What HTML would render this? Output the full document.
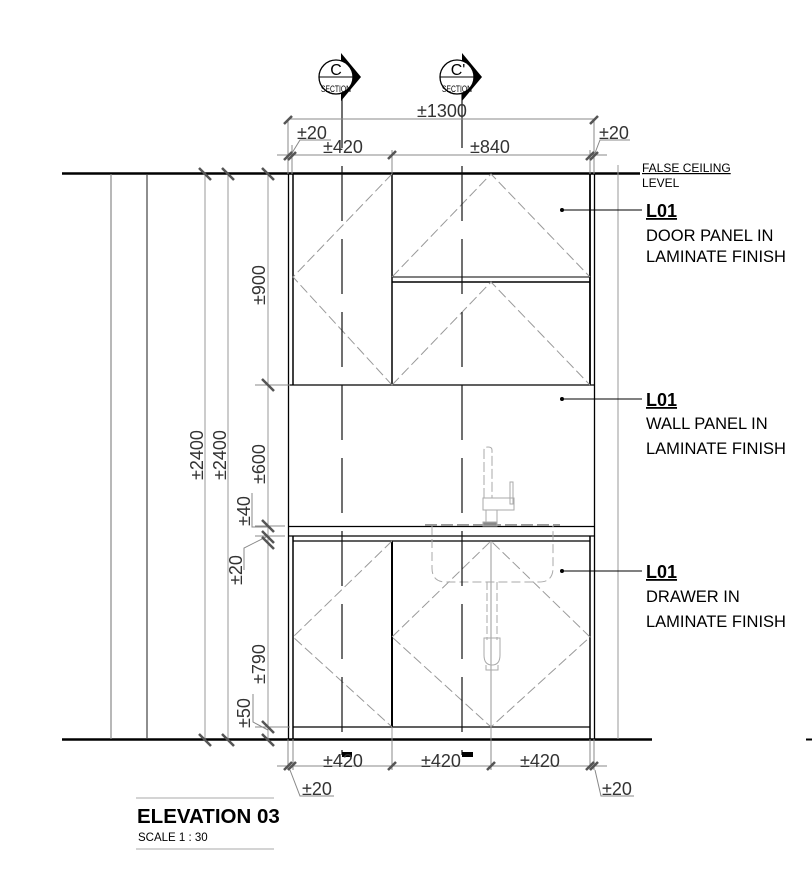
<!DOCTYPE html>
<html><head><meta charset="utf-8"><style>
html,body{margin:0;padding:0;background:#fff;}
svg{display:block;}
text{font-family:"Liberation Sans",Arial,sans-serif;}
</style></head><body>
<svg width="812" height="872" viewBox="0 0 812 872" xmlns="http://www.w3.org/2000/svg">
<g fill="none" stroke-linecap="butt">
<line x1="62" y1="173.5" x2="640" y2="173.5" stroke="#000" stroke-width="2.5"/>
<line x1="62" y1="739.5" x2="652" y2="739.5" stroke="#000" stroke-width="2.5"/>
<line x1="806" y1="739.5" x2="812" y2="739.5" stroke="#000" stroke-width="2"/>
<line x1="111" y1="174" x2="111" y2="739" stroke="#888" stroke-width="1.2"/>
<line x1="147" y1="174" x2="147" y2="739" stroke="#444" stroke-width="1.2"/>
<line x1="205" y1="174" x2="205" y2="739" stroke="#999" stroke-width="1"/>
<line x1="228" y1="174" x2="228" y2="739" stroke="#999" stroke-width="1"/>
<line x1="268" y1="174" x2="268" y2="739" stroke="#999" stroke-width="1"/>
<line x1="618" y1="165" x2="618" y2="739" stroke="#999" stroke-width="1"/>
<line x1="288.5" y1="174" x2="288.5" y2="739" stroke="#000" stroke-width="1.3"/>
<line x1="293" y1="174" x2="293" y2="385" stroke="#000" stroke-width="1.5"/>
<line x1="594.5" y1="174" x2="594.5" y2="739" stroke="#000" stroke-width="1.3"/>
<line x1="590" y1="174" x2="590" y2="385" stroke="#000" stroke-width="1.8"/>
<line x1="392" y1="174" x2="392" y2="385" stroke="#000" stroke-width="1.5"/>
<line x1="288" y1="385" x2="595" y2="385" stroke="#000" stroke-width="1.3"/>
<line x1="392" y1="277" x2="590" y2="277" stroke="#000" stroke-width="1"/>
<line x1="392" y1="282" x2="590" y2="282" stroke="#000" stroke-width="1.5"/>
<line x1="288" y1="526.5" x2="595" y2="526.5" stroke="#000" stroke-width="1.3"/>
<line x1="288" y1="536" x2="595" y2="536" stroke="#000" stroke-width="1.2"/>
<line x1="293" y1="536" x2="293" y2="739" stroke="#000" stroke-width="1.5"/>
<line x1="590" y1="536" x2="590" y2="739" stroke="#000" stroke-width="1.5"/>
<line x1="293" y1="541" x2="590" y2="541" stroke="#000" stroke-width="1.2"/>
<line x1="293" y1="727" x2="590" y2="727" stroke="#000" stroke-width="1.2"/>
<line x1="392" y1="541" x2="392" y2="727" stroke="#000" stroke-width="2"/>
<line x1="491" y1="541" x2="491" y2="739" stroke="#999" stroke-width="1"/>
<line x1="392" y1="727" x2="392" y2="739" stroke="#999" stroke-width="1"/>
<g stroke="#999" stroke-width="1" stroke-dasharray="10,4">
<polyline points="392,174 293,277 392,385"/>
<polyline points="392,277 491,174 590,277"/>
<polyline points="392,385 491,282 590,385"/>
<polyline points="392,541 293,637 392,727"/>
<polygon points="392,637 491,541 590,637 491,727"/>
</g>
<g stroke="#aaa" stroke-width="1">
<path d="M432 526 V568 Q432 582 446 582 H539 Q553 582 553 568 V526" stroke-dasharray="9,4"/>
<line x1="425" y1="525" x2="560" y2="525" stroke="#999" stroke-width="2" stroke-dasharray="12,4"/>
<path d="M487 582 V640 M497 582 V640" stroke-dasharray="8,3"/>
<path d="M484 638 H500 V655 Q500 665 492 665 Q484 665 484 655 Z"/>
<path d="M486 665 V670 H498 V665"/>
<path d="M484 498 V450 Q484 447 488 447 Q492 447 492 450 V498" stroke-dasharray="10,3"/>
<rect x="483" y="498" width="31" height="12"/>
<rect x="510" y="482" width="3" height="22"/>
<rect x="486" y="510" width="11" height="16"/>
<rect x="483" y="522" width="14" height="4" fill="#888"/>
</g>
<g stroke="#111" stroke-width="1.2" stroke-dasharray="55,18">
<line x1="342" y1="93" x2="342" y2="755"/>
<line x1="462" y1="93" x2="462" y2="755"/>
</g>
<rect x="342" y="752" width="10" height="5" fill="#000" stroke="none"/>
<rect x="462" y="752" width="11" height="5" fill="#000" stroke="none"/>
<polygon points="341,53 361,77 341,101" fill="#000"/>
<circle cx="336" cy="77" r="17" fill="#fff" stroke="#000" stroke-width="1.3"/>
<line x1="319" y1="77" x2="353" y2="77" stroke="#000" stroke-width="1"/>
<polygon points="462,53 482,77 462,101" fill="#000"/>
<circle cx="457" cy="77" r="17" fill="#fff" stroke="#000" stroke-width="1.3"/>
<line x1="440" y1="77" x2="474" y2="77" stroke="#000" stroke-width="1"/>
<g stroke="#888" stroke-width="1">
<line x1="288" y1="119" x2="595" y2="119"/>
<line x1="277" y1="155" x2="607" y2="155"/>
<line x1="288" y1="119" x2="288" y2="174"/>
<line x1="292" y1="145" x2="292" y2="174"/>
<line x1="392" y1="150" x2="392" y2="174"/>
<line x1="590" y1="150" x2="590" y2="174"/>
<line x1="594" y1="119" x2="594" y2="174"/>
<polyline points="292,153 300,140 331,140"/>
<polyline points="595,153 600,140 630,140"/>
<line x1="277" y1="766" x2="607" y2="766"/>
<line x1="288" y1="739" x2="288" y2="770"/>
<line x1="293" y1="739" x2="293" y2="770"/>
<line x1="392" y1="739" x2="392" y2="770"/>
<line x1="491" y1="739" x2="491" y2="770"/>
<line x1="590" y1="739" x2="590" y2="770"/>
<line x1="594" y1="739" x2="594" y2="770"/>
<polyline points="290,770 300,796 334,796"/>
<polyline points="595,770 601,796 634,796"/>
<line x1="255" y1="385" x2="290" y2="385"/>
<line x1="255" y1="526" x2="285" y2="526"/>
<line x1="255" y1="536" x2="285" y2="536"/>
<line x1="255" y1="727" x2="290" y2="727"/>
<polyline points="252,493 252,527 268,527"/>
<polyline points="244,570 244,548 268,536"/>
<polyline points="253,694 253,722 268,730"/>
</g>
<g stroke="#555" stroke-width="2.5">
<path d="M284 160 l8 -8 M288 160 l8 -8 M388 159 l8 -8 M586 160 l8 -8 M590 160 l8 -8 M284 124 l8 -8 M590 124 l8 -8"/>
<path d="M284 770 l8 -8 M288 770 l8 -8 M388 770 l8 -8 M487 770 l8 -8 M586 770 l8 -8 M590 770 l8 -8"/>
<path d="M199 168 l12 12 M222 168 l12 12 M262 168 l12 12 M262 379 l12 12 M262 520 l12 12 M262 531 l12 12 M262 537 l12 12 M262 721 l12 12 M199 734 l12 12 M222 734 l12 12 M262 734 l12 12"/>
</g>
<g stroke="#000" stroke-width="1">
<line x1="562" y1="210" x2="642" y2="210"/>
<line x1="562" y1="399" x2="642" y2="399"/>
<line x1="562" y1="571" x2="642" y2="571"/>
</g>
<circle cx="562" cy="210" r="2" fill="#000"/>
<circle cx="562" cy="399" r="2" fill="#000"/>
<circle cx="562" cy="571" r="2" fill="#000"/>
<line x1="136" y1="798" x2="274" y2="798" stroke="#aaa" stroke-width="1"/>
<line x1="136" y1="849" x2="274" y2="849" stroke="#aaa" stroke-width="1"/>
</g>
<g fill="#000">
<text x="336" y="75" font-size="16" text-anchor="middle">C</text>
<text x="336" y="92" font-size="9" text-anchor="middle" textLength="30" lengthAdjust="spacingAndGlyphs">SECTION</text>
<text x="458" y="75" font-size="16" text-anchor="middle">C'</text>
<text x="457" y="92" font-size="9" text-anchor="middle" textLength="30" lengthAdjust="spacingAndGlyphs">SECTION</text>
</g>
<g fill="#333" font-size="18">
<text x="417" y="117">±1300</text>
<text x="297" y="139">±20</text>
<text x="323" y="153">±420</text>
<text x="470" y="153">±840</text>
<text x="599" y="139">±20</text>
<text x="323" y="767">±420</text>
<text x="421" y="767">±420</text>
<text x="520" y="767">±420</text>
<text x="302" y="795">±20</text>
<text x="602" y="795">±20</text>
<text transform="translate(203,480) rotate(-90)">±2400</text>
<text transform="translate(226,480) rotate(-90)">±2400</text>
<text transform="translate(265,305) rotate(-90)">±900</text>
<text transform="translate(265,484) rotate(-90)">±600</text>
<text transform="translate(250,526) rotate(-90)">±40</text>
<text transform="translate(242,585) rotate(-90)">±20</text>
<text transform="translate(265,684) rotate(-90)">±790</text>
<text transform="translate(250,728) rotate(-90)">±50</text>
</g>
<g fill="#000" font-size="16.5">
<text x="642" y="172" font-size="12" text-decoration="underline">FALSE CEILING</text>
<text x="642" y="187" font-size="12">LEVEL</text>
<text x="646" y="217" font-weight="bold" font-size="18" text-decoration="underline">L01</text>
<text x="646" y="241">DOOR PANEL IN</text>
<text x="646" y="262">LAMINATE FINISH</text>
<text x="646" y="406" font-weight="bold" font-size="18" text-decoration="underline">L01</text>
<text x="646" y="429">WALL PANEL IN</text>
<text x="646" y="454">LAMINATE FINISH</text>
<text x="646" y="578" font-weight="bold" font-size="18" text-decoration="underline">L01</text>
<text x="646" y="602">DRAWER IN</text>
<text x="646" y="627">LAMINATE FINISH</text>
<text x="137" y="823" font-weight="bold" font-size="20.5">ELEVATION 03</text>
<text x="138" y="841" font-size="11.5">SCALE 1 : 30</text>
</g>
</svg>
</body></html>
